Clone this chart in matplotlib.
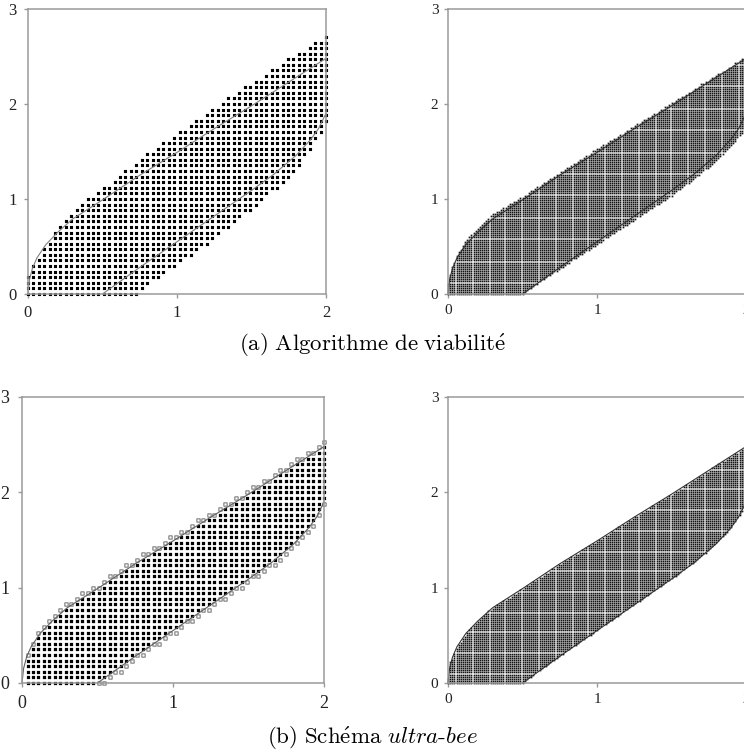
import numpy as np
import matplotlib
matplotlib.use("Agg")
from matplotlib import pyplot as plt

plt.rcParams['mathtext.fontset'] = 'cm'

# exact boundary of the set
UP_X = [0, 0.01, 0.03, 0.06, 0.12, 0.2, 0.3, 0.5, 0.75, 1.0, 1.25, 1.5, 1.75, 2.0]
UP_Y = [0, 0.15, 0.27, 0.38, 0.52, 0.65, 0.79, 0.99, 1.25, 1.49, 1.74, 1.98, 2.23, 2.48]
LO_X = [0.5, 0.75, 1.0, 1.25, 1.5, 1.65, 1.8, 1.9, 1.95, 2.0]
LO_Y = [0, 0.28, 0.55, 0.82, 1.09, 1.26, 1.46, 1.63, 1.74, 1.90]

# (a) left : coarse grid, outer approx of the kernel
PA_TOP_X = [0, 0.04, 0.17, 0.24, 0.39, 0.61, 0.80, 1.03, 1.31, 1.67, 1.92, 2.0]
PA_TOP_Y = [0.2, 0.32, 0.65, 0.76, 0.99, 1.25, 1.48, 1.73, 2.03, 2.40, 2.64, 2.72]
PA_BOT_X = [0.73, 1.0, 1.25, 1.5, 1.72, 1.87, 2.0]
PA_BOT_Y = [0, 0.30, 0.58, 0.88, 1.18, 1.44, 1.80]

# (a) right : fine grid
AR_TOP_X = [0, 0.02, 0.06, 0.12, 0.3, 0.5, 1.0, 1.5, 2.0]
AR_TOP_Y = [0.12, 0.26, 0.42, 0.57, 0.84, 1.03, 1.53, 2.01, 2.50]
AR_BOT_X = [0.5, 1.0, 1.5, 1.75, 1.9, 2.0]
AR_BOT_Y = [0, 0.52, 1.03, 1.33, 1.55, 1.75]

# grids
COARSE_NX, COARSE_NY = 56, 52
FINE_NX, FINE_NY = 141, 137

TICKS_X = [0, 1, 2]
TICKS_Y = [0, 1, 2, 3]

CAPTION_A = r"$\mathrm{(a)\ Algorithme\ de\ viabilit\acute{e}}$"
CAPTION_B = r"$\mathrm{(b)\ Sch\acute{e}ma}\ \mathit{ultra}$-$\mathit{bee}$"


def grid(nx, ny):
	xs = np.linspace(0, 2, nx)
	ys = np.linspace(0, 3, ny)
	X, Y = np.meshgrid(xs, ys)
	return X.ravel(), Y.ravel(), ys[1] - ys[0]

def top_of(x, tx, ty):
	return np.interp(x, tx, ty)

def bot_of(x, bx, by):
	return np.interp(x, bx, by, left=0.0)

def style_axes(ax, fs, pad):
	ax.set_xlim(0, 2)
	ax.set_ylim(0, 3)
	ax.set_xticks(TICKS_X)
	ax.set_yticks(TICKS_Y)
	for s in ax.spines.values():
		s.set_color('#9a9a9a')
		s.set_linewidth(1.1)
		s.set_zorder(5)
	ax.tick_params(length=3, width=1, color='#9a9a9a', labelsize=fs,
		labelcolor='#222222', pad=pad)
	for lab in ax.get_xticklabels() + ax.get_yticklabels():
		lab.set_family('Liberation Serif')

def draw_curves(ax, color):
	ax.plot(UP_X, UP_Y, color=color, lw=0.8, zorder=4, clip_on=False)
	ax.plot(LO_X, LO_Y, color=color, lw=0.8, zorder=4, clip_on=False)

def squares(ax, x, y, s, **kw):
	sc = ax.scatter(x, y, s=s, marker='s', clip_on=False, zorder=3, **kw)
	sc.set_snap(False)
	return sc


fig = plt.figure(figsize=(7.44, 7.55), dpi=100)
ax_al = fig.add_axes([0.0376, 0.6106, 0.4005, 0.3775])
ax_ar = fig.add_axes([0.6022, 0.6106, 0.4005, 0.3775])
ax_bl = fig.add_axes([0.0296, 0.0954, 0.4060, 0.3788])
ax_br = fig.add_axes([0.6022, 0.0954, 0.4005, 0.3788])

# (a) left
X, Y, dy = grid(COARSE_NX, COARSE_NY)
m = (Y <= top_of(X, PA_TOP_X, PA_TOP_Y) + 1e-9) & (Y >= bot_of(X, PA_BOT_X, PA_BOT_Y) - 1e-9)
squares(ax_al, X[m], Y[m], 5.0, c='black', linewidths=0)
draw_curves(ax_al, '#808080')

# (b) left
up = top_of(X, UP_X, UP_Y)
lo = bot_of(X, LO_X, LO_Y)
inside = (Y < up) & (Y > lo - 1e-9) & (X > 0)
edge_up = (Y >= up) & (Y < up + dy) & (X > 0)
edge_lo = (Y <= lo - 1e-9) & (Y > lo - dy) & (X > 0)
edge = edge_up | edge_lo
squares(ax_bl, X[inside], Y[inside], 5.4, c='black', linewidths=0)
squares(ax_bl, X[edge], Y[edge], 5.6, facecolors='white', edgecolors='#6a6a6a', linewidths=0.7)
draw_curves(ax_bl, '#606060')

# (a) right
X, Y, dy = grid(FINE_NX, FINE_NY)
m = (Y <= top_of(X, AR_TOP_X, AR_TOP_Y)) & (Y >= bot_of(X, AR_BOT_X, AR_BOT_Y))
squares(ax_ar, X[m], Y[m], 1.5, c='#141414', linewidths=0)
draw_curves(ax_ar, '#333333')

# (b) right
m = (Y <= top_of(X, UP_X, UP_Y) + 0.05 * (X < 0.02)) & (Y >= bot_of(X, LO_X, LO_Y))
squares(ax_br, X[m], Y[m], 1.5, c='#141414', linewidths=0)
draw_curves(ax_br, '#333333')

style_axes(ax_al, 12, 5)
style_axes(ax_ar, 11, 4)
style_axes(ax_bl, 13, 6)
style_axes(ax_br, 11, 4)

fig.text(0.5, 0.543, CAPTION_A, ha='center', va='center', fontsize=16.5)
fig.text(0.5, 0.0225, CAPTION_B, ha='center', va='center', fontsize=16.5, family='cmr10')

fig.savefig('out.png', dpi=100)
